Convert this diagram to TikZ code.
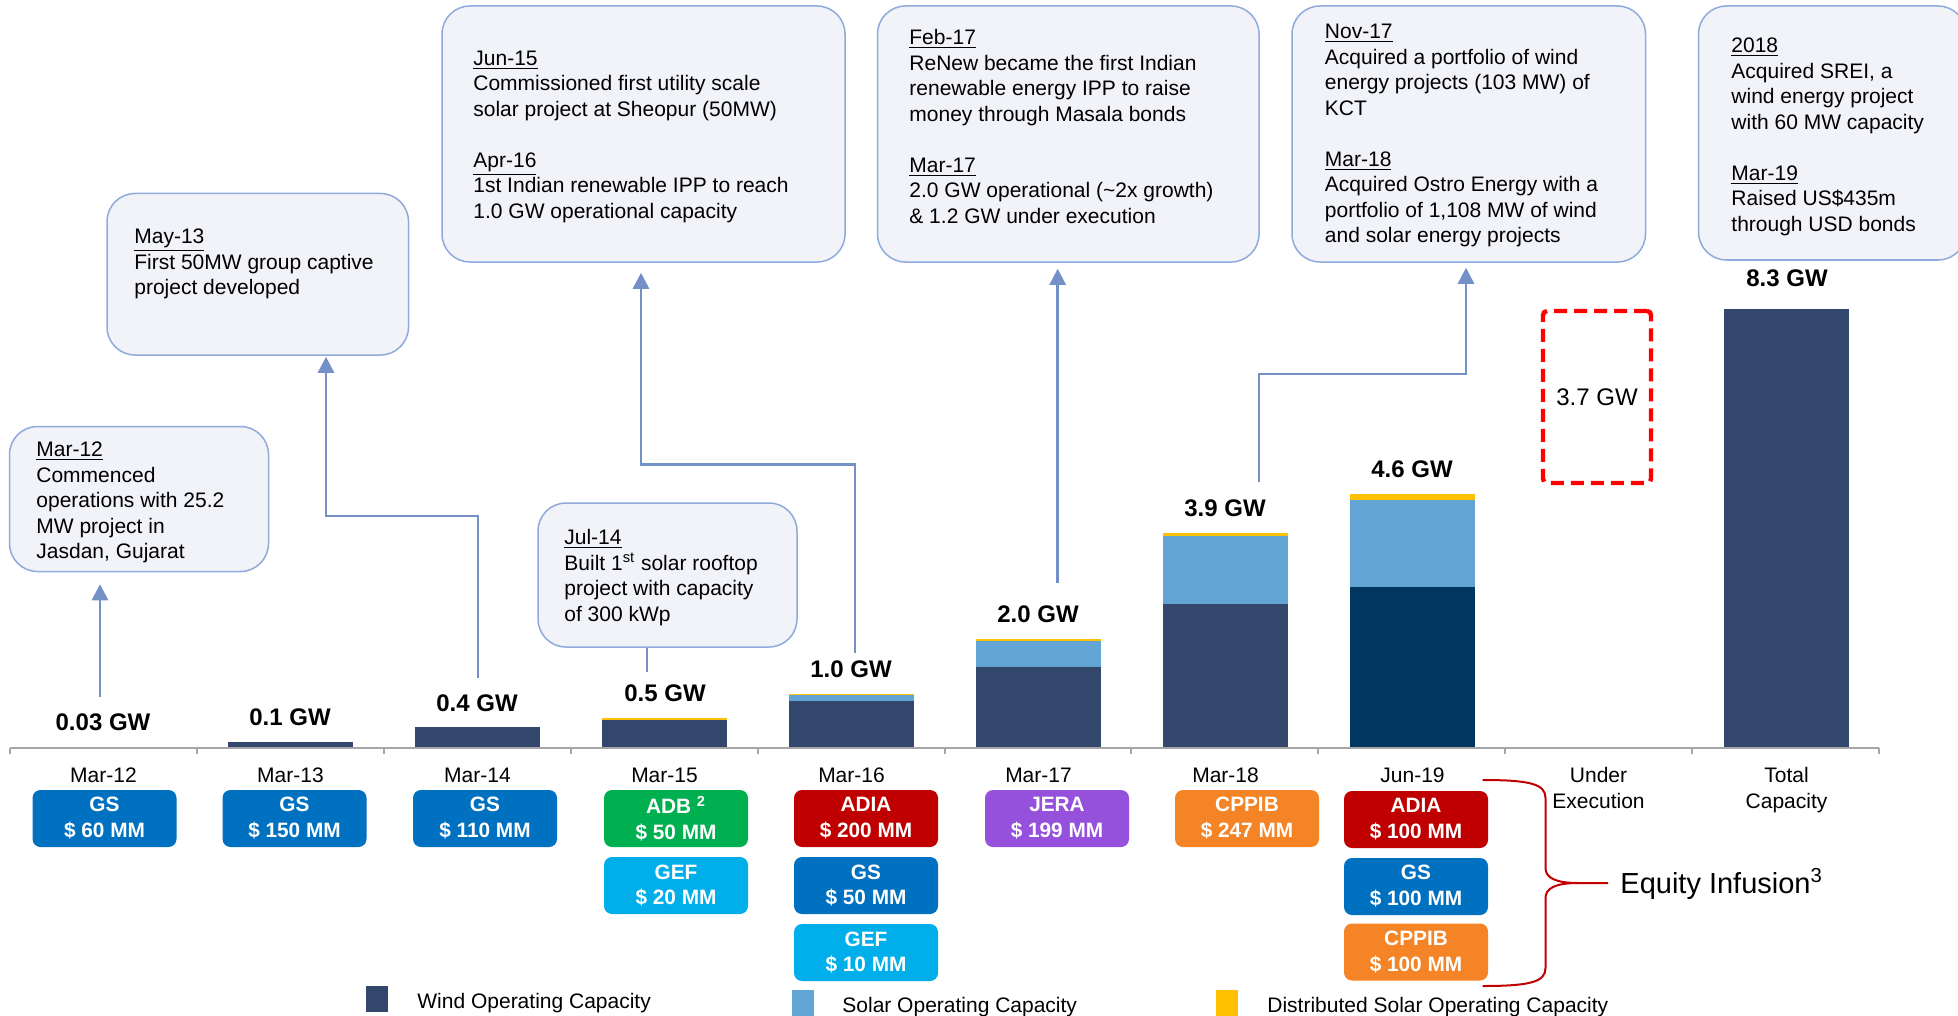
\documentclass[tikz,border=0pt]{standalone}
\usepackage{fontspec}
\setmainfont{Liberation Sans}
\usetikzlibrary{arrows.meta}
\definecolor{evfill}{HTML}{F2F3F9}
\definecolor{evdraw}{HTML}{8FAADC}
\definecolor{arrc}{HTML}{7391C6}
\definecolor{wind}{HTML}{33466B}
\definecolor{winddk}{HTML}{003660}
\definecolor{solar}{HTML}{62A4D3}
\definecolor{dist}{HTML}{FFC000}
\definecolor{axisc}{HTML}{A6A6A6}
\definecolor{cgs}{HTML}{0070C0}
\definecolor{cadb}{HTML}{00B050}
\definecolor{cgef}{HTML}{00AEEA}
\definecolor{cadia}{HTML}{C00000}
\definecolor{cjera}{HTML}{9551DC}
\definecolor{ccpp}{HTML}{F58426}
\definecolor{bracec}{HTML}{C00000}
\newcommand{\evdate}[1]{\underline{#1}}
\begin{document}
\begin{tikzpicture}[x=0.5pt,y=-0.5pt,
  evbox/.style={draw=evdraw, line width=0.75pt, fill=evfill, rounded corners=14pt, inner sep=0pt},
  evtext/.style={anchor=north west, inner sep=0pt, align=left, font=\fontsize{10.5}{12.75}\selectfont},
  val/.style={inner sep=0pt, font=\fontsize{12}{14}\selectfont\bfseries},
  cat/.style={inner sep=0pt, align=center, font=\fontsize{10.5}{13}\selectfont},
  fund/.style={fill=#1, rounded corners=4pt, minimum width=72pt, minimum height=28.5pt, inner sep=0pt, text=white, align=center, font=\fontsize{10.4}{13}\selectfont\bfseries},
  arr/.style={draw=arrc, line width=1.3pt, -{Triangle[width=8pt,length=8pt]}},
  conn/.style={draw=arrc, line width=1.3pt},
  legtext/.style={anchor=base west, inner sep=0pt, font=\fontsize{10.5}{12.5}\selectfont},
  brc/.style={draw=bracec, line width=1pt}
]
\clip (0,0) rectangle (1958,1016);
\fill[white] (0,0) rectangle (1958,1016);

% ---------- bars ----------
\fill[wind] (41,746.5) rectangle (166,748);
\fill[wind] (228,742) rectangle (353,748);
\fill[wind] (415,727) rectangle (540,748);
\fill[wind] (602,719.5) rectangle (727,748);
\fill[dist] (602,718) rectangle (727,719.5);
\fill[wind] (789,701) rectangle (914,748);
\fill[solar] (789,694.5) rectangle (914,701);
\fill[dist] (789,693.5) rectangle (914,694.5);
\fill[wind] (976,667) rectangle (1101,748);
\fill[solar] (976,640.5) rectangle (1101,667);
\fill[dist] (976,639) rectangle (1101,640.5);
\fill[wind] (1163,604) rectangle (1288,748);
\fill[solar] (1163,536) rectangle (1288,604);
\fill[dist] (1163,533) rectangle (1288,536);
\fill[winddk] (1350,587) rectangle (1475,748);
\fill[solar] (1350,500) rectangle (1475,587);
\fill[dist] (1350,494) rectangle (1475,500);
\fill[wind] (1724,309) rectangle (1849,748);

% ---------- axis ----------
\draw[axisc, line width=1pt] (10,748) -- (1879,748);
\foreach \i in {0,...,10} \draw[axisc, line width=1pt] (10+186.9*\i,748) -- ++(0,6);

% ---------- value labels ----------
\node[val] (v12) at (103,722) {0.03 GW};
\node[val] (v13) at (290,717) {0.1 GW};
\node[val] (v14) at (477,703) {0.4 GW};
\node[val] (v15) at (665,693) {0.5 GW};
\node[val] (v16) at (851,669) {1.0 GW};
\node[val] (v17) at (1038,614) {2.0 GW};
\node[val] (v18) at (1225,508) {3.9 GW};
\node[val] (v19) at (1412,469.5) {4.6 GW};
\node[val] (vtot) at (1787,278) {8.3 GW};

\node[draw=red, line width=2.2pt, dash pattern=on 6.5pt off 3.5pt, rounded corners=2pt,
  minimum width=54pt, minimum height=86pt, inner sep=0pt, font=\fontsize{12}{14}\selectfont]
  (ue) at (1597,397) {3.7 GW};

% ---------- category labels ----------
\node[cat] (c12) at (103.5,775.5) {Mar-12};
\node[cat] (c13) at (290.5,775.5) {Mar-13};
\node[cat] (c14) at (477.5,775.5) {Mar-14};
\node[cat] (c15) at (664.5,775.5) {Mar-15};
\node[cat] (c16) at (851.5,775.5) {Mar-16};
\node[cat] (c17) at (1038.5,775.5) {Mar-17};
\node[cat] (c18) at (1225.5,775.5) {Mar-18};
\node[cat] (c19) at (1412.5,775.5) {Jun-19};
\node[cat, anchor=north] (cue) at (1598.5,767) {Under\\Execution};
\node[cat, anchor=north] (ctot) at (1786.5,767) {Total\\Capacity};

% ---------- funding boxes ----------
\node[fund=cgs] (f12a) at (104.5,818.5) {GS\\\$ 60 MM};
\node[fund=cgs] (f13a) at (294.5,818.5) {GS\\\$ 150 MM};
\node[fund=cgs] (f14a) at (485,818.5) {GS\\\$ 110 MM};
\node[fund=cadb] (f15a) at (676,818.5) {ADB \textsuperscript{2}\\\$ 50 MM};
\node[fund=cgef] (f15b) at (676,885.5) {GEF\\\$ 20 MM};
\node[fund=cadia] (f16a) at (866,818.5) {ADIA\\\$ 200 MM};
\node[fund=cgs] (f16b) at (866,885.5) {GS\\\$ 50 MM};
\node[fund=cgef] (f16c) at (866,952.5) {GEF\\\$ 10 MM};
\node[fund=cjera] (f17a) at (1057,818.5) {JERA\\\$ 199 MM};
\node[fund=ccpp] (f18a) at (1247,818.5) {CPPIB\\\$ 247 MM};
\node[fund=cadia] (f19a) at (1416,819.5) {ADIA\\\$ 100 MM};
\node[fund=cgs] (f19b) at (1416,886.5) {GS\\\$ 100 MM};
\node[fund=ccpp] (f19c) at (1416,952) {CPPIB\\\$ 100 MM};

% ---------- equity infusion brace ----------
\draw[brc] (1482.5,780) .. controls (1530,780) and (1545.5,784) .. (1545.5,798) -- (1545.5,868)
  .. controls (1545.5,878) and (1556,883) .. (1578,883) -- (1608,883);
\draw[brc] (1482.5,986) .. controls (1530,986) and (1545.5,982) .. (1545.5,968) -- (1545.5,898)
  .. controls (1545.5,888) and (1556,883) .. (1578,883);
\node[anchor=base west, inner sep=0pt, font=\fontsize{14.5}{17}\selectfont] (eq) at (1620,893) {Equity Infusion\textsuperscript{3}};

% ---------- event boxes ----------
\node[evbox, minimum width=129.5pt, minimum height=72.5pt] (b1) at (139,499) {};
\node[evtext] (t1) at (36,441.5) {\evdate{Mar-12}\\Commenced\\operations with 25.2\\MW project in\\Jasdan, Gujarat};

\node[evbox, minimum width=150.75pt, minimum height=80.75pt] (b2) at (257.75,274.25) {};
\node[evtext] (t2) at (134,228.5) {\evdate{May-13}\\First 50MW group captive\\project developed};

\node[evbox, minimum width=201.5pt, minimum height=128pt] (b3) at (643.5,134) {};
\node[evtext] (t3) at (473,50.5) {\evdate{Jun-15}\\Commissioned first utility scale\\solar project at Sheopur (50MW)\\[12.75pt]\evdate{Apr-16}\\1st Indian renewable IPP to reach\\1.0 GW operational capacity};

\node[evbox, minimum width=129.5pt, minimum height=72pt] (b4) at (667.5,575) {};
\node[evtext] (t4) at (564,529) {\evdate{Jul-14}\\Built 1\textsuperscript{st} solar rooftop\\project with capacity\\of 300 kWp};

\node[evbox, minimum width=190.75pt, minimum height=128pt] (b5) at (1068.25,134) {};
\node[evtext] (t5) at (909,29) {\evdate{Feb-17}\\ReNew became the first Indian\\renewable energy IPP to raise\\money through Masala bonds\\[12.75pt]\evdate{Mar-17}\\2.0 GW operational (\textasciitilde{}2x growth)\\\& 1.2 GW under execution};

\node[evbox, minimum width=176.75pt, minimum height=128pt] (b6) at (1468.75,134) {};
\node[evtext] (t6) at (1324.5,24) {\evdate{Nov-17}\\Acquired a portfolio of wind\\energy projects (103 MW) of\\KCT\\[12.75pt]\evdate{Mar-18}\\Acquired Ostro Energy with a\\portfolio of 1,108 MW of wind\\and solar energy projects};

\node[evbox, minimum width=133.75pt, minimum height=127pt] (b7) at (1832.25,133) {};
\node[evtext] (t7) at (1731,37.5) {\evdate{2018}\\Acquired SREI, a\\wind energy project\\with 60 MW capacity\\[12.75pt]\evdate{Mar-19}\\Raised US\$435m\\through USD bonds};

% ---------- connectors ----------
\coordinate (s12) at (100,697);
\draw[arr, shorten >=6pt] (s12) -- (s12 |- b1.south);
\coordinate (s14) at (478,678);
\coordinate (k2) at (326,516);
\draw[arr, shorten >=0.5pt] (s14) |- (k2) -- (k2 |- b2.south);
\coordinate (s15) at (647,672);
\draw[conn] (s15) -- (s15 |- b4.south);
\coordinate (s16) at (855,653);
\coordinate (k3) at (641,464.5);
\draw[arr, shorten >=5pt] (s16) |- (k3) -- (k3 |- b3.south);
\coordinate (s17) at (1057.7,582.7);
\draw[arr, shorten >=3pt] (s17) -- (s17 |- b5.south);
\coordinate (s18) at (1259,481.7);
\coordinate (k6) at (1466,374);
\draw[arr, shorten >=2.5pt] (s18) |- (k6) -- (k6 |- b6.south);

% ---------- legend ----------
\fill[wind] (366,986) rectangle (388,1012);
\node[legtext] (lw) at (417,1008) {Wind Operating Capacity};
\fill[solar] (792,990) rectangle (814,1016);
\node[legtext] (ls) at (842,1012.5) {Solar Operating Capacity};
\fill[dist] (1216,990) rectangle (1238,1016);
\node[legtext] (ld) at (1267,1012.5) {Distributed Solar Operating Capacity};
\end{tikzpicture}
\end{document}
